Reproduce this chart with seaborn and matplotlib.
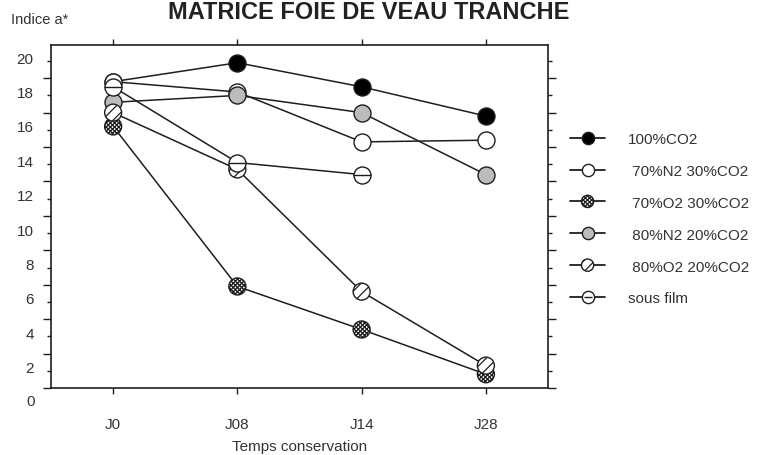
import numpy as np
import pandas as pd
import matplotlib
matplotlib.use("Agg")
import matplotlib.pyplot as plt
import matplotlib.transforms as mtrans
from matplotlib.lines import Line2D
from matplotlib.legend_handler import HandlerTuple
import seaborn as sns

# ---------------- data ----------------
days = ["J0", "J08", "J14", "J28"]
series = ["100%CO2", " 70%N2 30%CO2", " 70%O2 30%CO2", " 80%N2 20%CO2",
          " 80%O2 20%CO2", "sous film"]
v_100co2 = [18.8, 19.9, 18.5, 16.8]
v_70n2_30co2 = [18.8, 18.2, 15.3, 15.4]
v_70o2_30co2 = [16.2, 6.9, 4.4, 1.8]
v_80n2_20co2 = [17.6, 18.0, 17.0, 13.4]
v_80o2_20co2 = [17.0, 13.7, 6.6, 2.3]
v_sous_film = [18.5, 14.1, 13.4, np.nan]
values = [v_100co2, v_70n2_30co2, v_70o2_30co2, v_80n2_20co2, v_80o2_20co2, v_sous_film]
ytick_values = list(range(2, 21, 2))
title = "MATRICE FOIE DE VEAU TRANCHE"
ylabel_text = "Indice a*"
xlabel_text = "Temps conservation"

# ---------------- styles ----------------
faces = ["#000000", "#ffffff", "#ffffff", "#bcbcbc", "#ffffff", "#ffffff"]
hatches = [None, None, "xxxxxxxx", None, "///", None]
INK = "#1e1e1e"
TXT = "#333333"

rows = []
for name, vals in zip(series, values):
    for i, (d, v) in enumerate(zip(days, vals)):
        rows.append({"serie": name, "jour": d, "pos": i, "val": v})
df = pd.DataFrame(rows)

sns.set_style("ticks")
plt.rcParams["font.family"] = ["Liberation Sans", "DejaVu Sans"]
plt.rcParams["hatch.color"] = INK
plt.rcParams["hatch.linewidth"] = 0.9

fig = plt.figure(figsize=(7.61, 4.56), dpi=100)
ax = fig.add_axes([51 / 761, 67 / 456, 497 / 761, 343 / 456])

sns.lineplot(data=df.dropna(), x="pos", y="val", hue="serie", hue_order=series,
             palette=[INK] * len(series), linewidth=1.1, legend=False,
             estimator=None, sort=False, ax=ax, zorder=2)

S = 150
handles = []
for k, name in enumerate(series):
    sub = df[(df["serie"] == name)].dropna()
    kw = {}
    if hatches[k]:
        kw["hatch"] = hatches[k]
    sns.scatterplot(data=sub, x="pos", y="val", color=faces[k], edgecolor=INK,
                    linewidth=1.0, s=S, marker="o", legend=False, ax=ax,
                    zorder=3 + k, **kw)
    coll = ax.collections[-1]
    line_h = Line2D([], [], color=INK, linewidth=1.3)
    if name == "sous film":
        ax.plot(sub["pos"], sub["val"], linestyle="None", marker="_",
                markersize=np.sqrt(S), markeredgewidth=1.0, color=INK, zorder=3 + k)
        bar_h = Line2D([], [], linestyle="None", marker="_",
                       markersize=np.sqrt(S) * 0.72, markeredgewidth=1.0, color=INK)
        handles.append((line_h, coll, bar_h))
    else:
        handles.append((line_h, coll))

# ---------------- axes ----------------
ax.set_xlim(-0.5, 3.5)
ax.set_ylim(1, 20.93)
ax.set_xticks(range(len(days)))
ax.set_xticklabels(days)
ax.set_yticks(ytick_values)
ax.set_yticks(np.arange(1, 21, 2), minor=True)
ax.set_xlabel(xlabel_text, fontsize=11, color=TXT, labelpad=6)
ax.set_ylabel("")

for side in ["left", "right", "top", "bottom"]:
    ax.spines[side].set_visible(True)
    ax.spines[side].set_linewidth(1.2)
    ax.spines[side].set_color(INK)

ax.tick_params(axis="x", which="major", direction="out", length=4, width=1,
               top=True, bottom=True, color=INK, labelcolor=TXT,
               labelsize=11, pad=17)
ax.tick_params(axis="y", which="major", direction="out", length=3, width=1,
               left=True, right=True, color=INK, labelcolor=TXT,
               labelsize=11, pad=9.5)
ax.tick_params(axis="y", which="minor", direction="out", length=6, width=1,
               left=True, right=True, color=INK)
ax.tick_params(axis="x", which="minor", bottom=False, top=False)

offset = mtrans.ScaledTranslation(0, 4 / 100, fig.dpi_scale_trans)
for lab in ax.yaxis.get_majorticklabels():
    lab.set_transform(lab.get_transform() + offset)

ax.annotate("0", xy=(0, 0), xycoords=("axes fraction", "data"),
            xytext=(-(2.2 + 9.5), 3), textcoords="offset points",
            ha="right", va="center", fontsize=11, color=TXT,
            annotation_clip=False)

fig.text(569 / 761, 1 - 19 / 456, title, ha="right", va="baseline",
         fontsize=17, fontweight="bold", color="#222222")
fig.text(11 / 761, 1 - 24 / 456, ylabel_text, ha="left", va="baseline",
         fontsize=10.5, color=TXT)

fig.legend(handles, series, handler_map={tuple: HandlerTuple(ndivide=1)},
           loc="upper left", bbox_to_anchor=(570 / 761, 1 - 133 / 456),
           frameon=False, fontsize=11, handlelength=2.3, handletextpad=1.5,
           labelspacing=1.17, borderpad=0, borderaxespad=0,
           scatterpoints=1, scatteryoffsets=[0.5], markerscale=0.72,
           labelcolor=TXT)

fig.savefig("out.png", dpi=100)
